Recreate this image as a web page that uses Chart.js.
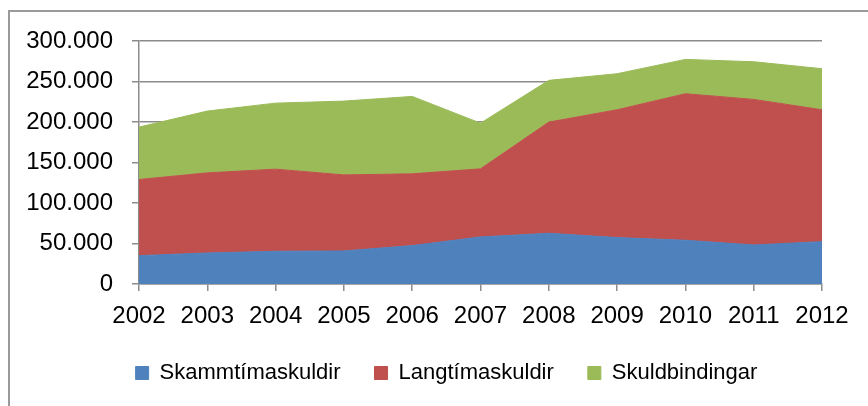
<!DOCTYPE html>
<html>
<head>
<meta charset="utf-8">
<script src="https://cdn.jsdelivr.net/npm/chart.js@4"></script>
<style>
  html, body { margin: 0; padding: 0; background: #fff; }
  .wrap { position: relative; width: 868px; height: 406px; overflow: hidden; }
  .frame { position: absolute; left: 8px; top: 10px; width: 900px; height: 450px;
           border-top: 2px solid #9a9a9a; border-left: 2px solid #9a9a9a; }
  canvas { position: absolute; left: 0; top: 0; }
</style>
</head>
<body>
<div class="wrap">
  <div class="frame"></div>
  <canvas id="chart" width="868" height="406"></canvas>
</div>
<script>
const years = ["2002", "2003", "2004", "2005", "2006", "2007", "2008", "2009", "2010", "2011", "2012"];
const skammtima = [35000, 38300, 40400, 40800, 47400, 58100, 62600, 57300, 54000, 48200, 52300];
const langtima = [94000, 98900, 101400, 93900, 88600, 84100, 137300, 157800, 180900, 179700, 162800];
const skuldbindingar = [64700, 76300, 81500, 91100, 95600, 56400, 51500, 44500, 42400, 46500, 50700];
const yMax = 300000;
const yStep = 50000;

function formatIs(v) {
  return String(v).replace(/\B(?=(\d{3})+(?!\d))/g, ".");
}

const font = "'Liberation Sans', Arial, sans-serif";
const ctx = document.getElementById("chart").getContext("2d");

new Chart(ctx, {
  type: "line",
  data: {
    labels: years,
    datasets: [
      { label: "Skammtímaskuldir", data: skammtima, backgroundColor: "#4F81BD", borderColor: "#4F81BD", fill: "origin" },
      { label: "Langtímaskuldir", data: langtima, backgroundColor: "#C0504D", borderColor: "#C0504D", fill: "-1" },
      { label: "Skuldbindingar", data: skuldbindingar, backgroundColor: "#9BBB59", borderColor: "#9BBB59", fill: "-1" },
    ],
  },
  options: {
    responsive: false,
    animation: false,
    elements: {
      line: { borderWidth: 1, tension: 0 },
      point: { radius: 0 },
    },
    layout: { padding: { left: 25, right: 0, top: 41, bottom: 12 } },
    plugins: {
      tooltip: { enabled: false },
      legend: {
        position: "bottom",
        labels: {
          color: "#000",
          font: { family: font, size: 22 },
          boxWidth: 13,
          boxHeight: 13,
          padding: 34,
        },
      },
    },
    scales: {
      x: {
        offset: false,
        grid: { drawOnChartArea: false, drawTicks: true, tickLength: 7, color: "#8c8c8c", lineWidth: 1.5 },
        border: { color: "#8c8c8c", width: 1.5 },
        ticks: { color: "#000", font: { family: font, size: 24 }, padding: 11, maxRotation: 0, autoSkip: false },
        afterFit: (s) => { s.height = 44; },
      },
      y: {
        stacked: true,
        min: 0,
        max: yMax,
        grid: { color: "#8c8c8c", lineWidth: 1.5, tickLength: 7 },
        border: { color: "#8c8c8c", width: 1.5 },
        ticks: {
          stepSize: yStep,
          color: "#000",
          font: { family: font, size: 24 },
          padding: 19,
          callback: (v) => formatIs(v),
        },
        afterFit: (s) => { s.width = 114; },
      },
      // empty space on the right side of the plot
      yRight: {
        position: "right",
        grid: { display: false },
        border: { display: false },
        ticks: { display: false },
        afterFit: (s) => { s.width = 46; },
      },
    },
  },
});
</script>
</body>
</html>
